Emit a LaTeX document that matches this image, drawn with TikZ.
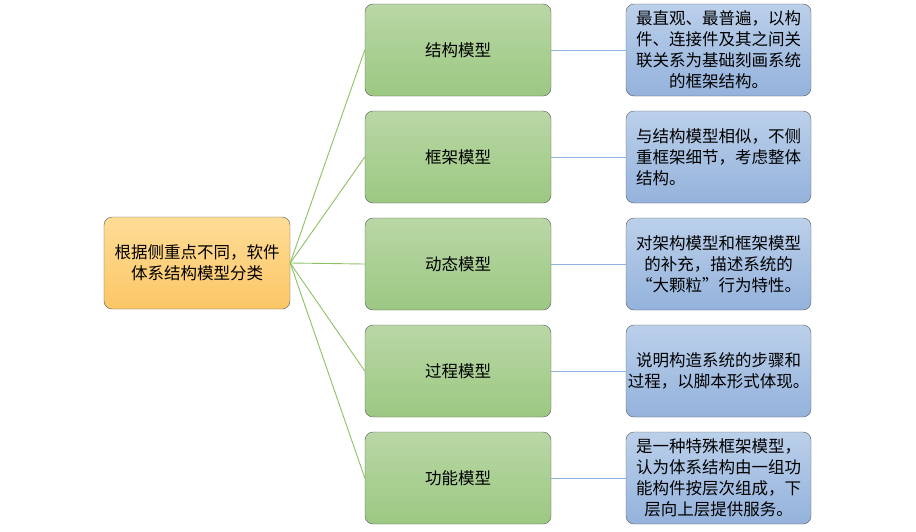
\documentclass[tikz,border=0pt]{standalone}
\usepackage{fontspec}
\setmainfont{Noto Sans CJK SC}
\usepackage{xcolor}
\definecolor{rootlo}{HTML}{FBC766}
\definecolor{roothi}{HTML}{FFDC96}
\definecolor{greenlo}{HTML}{9CC882}
\definecolor{greenhi}{HTML}{B9D7A5}
\definecolor{bluelo}{HTML}{94B2DC}
\definecolor{bluehi}{HTML}{BBD0EA}
\definecolor{greenline}{HTML}{8DC163}
\definecolor{blueline}{HTML}{8DB4E2}

\begin{document}
\begin{tikzpicture}[
        x=1pt,
        y=-1pt,
        every node/.style={font=\fontsize{16.5}{21}\selectfont},
        rootbox/.style={
            draw=black!65,
            rounded corners=8pt,
            minimum width=186pt,
            minimum height=92pt,
            top color=roothi,
            bottom color=rootlo,
            align=center
        },
        modelbox/.style={
            draw=black!65,
            rounded corners=8pt,
            minimum width=186pt,
            minimum height=92pt,
            top color=greenhi,
            bottom color=greenlo
        },
        notebox/.style={
            draw=black!65,
            rounded corners=8pt,
            minimum width=185pt,
            minimum height=92pt,
            inner sep=1pt,
            top color=bluehi,
            bottom color=bluelo
        }
    ]
        \useasboundingbox (0,0) rectangle (916,531);

        % Root on the left
        \node[rootbox] (root) at (197,263)
            {根据侧重点不同，软件\\体系结构模型分类};

        % Models: x=365..551, one row each
        \node[modelbox] (m1) at (458,50)  {结构模型};
        \node[modelbox] (m2) at (458,157) {框架模型};
        \node[modelbox] (m3) at (458,264) {动态模型};
        \node[modelbox] (m4) at (458,371) {过程模型};
        \node[modelbox] (m5) at (458,478) {功能模型};

        % Notes: x=626..811
        \node[notebox, align=center] (n1) at (718.5,50)
            {最直观、最普遍，以构\\件、连接件及其之间关\\联关系为基础刻画系统\\的框架结构。};
        \node[notebox, align=left] (n2) at (718.5,157)
            {与结构模型相似，不侧\\重框架细节，考虑整体\\结构。};
        \node[notebox, align=center] (n3) at (718.5,264)
            {对架构模型和框架模型\\的补充，描述系统的\\“大颗粒”行为特性。};
        \node[notebox, align=center] (n4) at (718.5,371)
            {说明构造系统的步骤和\\过程，以脚本形式体现。};
        \node[notebox, align=center] (n5) at (718.5,478)
            {是一种特殊框架模型，\\认为体系结构由一组功\\能构件按层次组成，下\\层向上层提供服务。};

        % Connectors
        \foreach \k in {1,...,5}
            \draw[greenline, line width=0.9pt] (root.east) -- (m\k.west);
        \foreach \k in {1,...,5}
            \draw[blueline, line width=0.9pt] (m\k.east) -- (n\k.west);

    \end{tikzpicture}
\end{document}
